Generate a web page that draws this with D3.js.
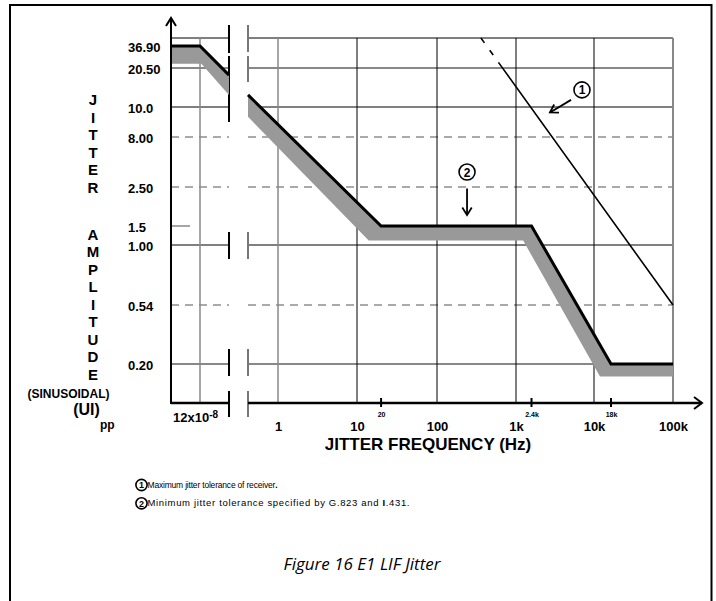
<!DOCTYPE html>
<html>
<head>
<meta charset="utf-8">
<script src="https://cdn.jsdelivr.net/npm/d3@7"></script>
<style>
    body { margin: 0; background: #fff; }
    svg text { font-family: "Liberation Sans", Arial, sans-serif; fill: #000; }
    .bold { font-weight: bold; }
    .caption { font-family: "Open Sans", "Noto Sans", sans-serif; font-style: italic; }
</style>
</head>
<body>
<svg id="jitter-chart" width="716" height="601"></svg>
<script>
// values
const X_TICK_VALUES = [12e-8, 1, 10, 100, 1000, 10000, 100000];
const X_TICK_LABELS = ['12x10', '1', '10', '100', '1k', '10k', '100k'];
const X_MARK_VALUES = [20, 2400, 18000];
const X_MARK_LABELS = ['20', '2.4k', '18k'];
const Y_TICK_VALUES = [36.9, 20.5, 10, 8, 2.5, 1.5, 1, 0.54, 0.2];
const Y_TICK_LABELS = ['36.90', '20.50', '10.0', '8.00', '2.50', '1.5', '1.00', '0.54', '0.20'];
const Y_GRID_VALUES = [40, 20.5, 10, 8, 2.5, 1, 0.54, 0.2];
const BREAK_FREQ = [4.88e-3, 0.01];

// minimum tolerance mask (G.823), split by the axis break
const MASK_LOW_FREQ = [1e-8, 12e-8, 4.88e-3];
const MASK_LOW_AMP = [36.9, 36.9, 18];
const MASK_HIGH_FREQ = [0.01, 20, 2400, 18000, 100000];
const MASK_HIGH_AMP = [12.5, 1.5, 1.5, 0.2, 0.2];
// lower edge of the grey band under the mask
const SHADE_LOW_FREQ = [1e-8, 2e-7, 4.88e-3];
const SHADE_LOW_AMP = [23, 23, 12.5];
const SHADE_HIGH_FREQ = [0.01, 14, 1500, 12300, 100000];
const SHADE_HIGH_AMP = [9.3, 1.1, 1.1, 0.16, 0.16];
// maximum tolerance of receiver
const RX_FREQ = [360, 100000];
const RX_AMP = [40, 0.54];

const NOTE_LABELS = ['1', '2'];
const NOTE_FREQ = [7600, 240];
const NOTE_AMP = [13.7, 3.54];
const NOTE_FROM_FREQ = [5920, 240];
const NOTE_FROM_AMP = [11.4, 2.45];
const NOTE_TO_FREQ = [3660, 240];
const NOTE_TO_AMP = [9.6, 1.73];

const LEGEND_TEXT = [
    ['Maximum jitter tolerance of receiver', '.', ''],
    ['Minimum jitter tolerance specified by G.823 and ', 'I', '.431.']
];

class JitterChart {
    constructor() {
        this.svg = d3.select('#jitter-chart');

        // the figure is a schematic, so both axes are piecewise log scales
        this.x = d3.scaleLog()
            .domain([1e-8, 12e-8, 4.88e-3, 0.01, 1, 10, 100, 1000, 2400, 10000, 18000, 100000])
            .range([171, 200, 229, 248, 278, 357, 437, 516, 531.5, 594, 611, 673]);
        this.y = d3.scaleLog()
            .domain([0.1, 0.2, 0.54, 1, 1.5, 2.5, 8, 10, 20.5, 36.9, 40])
            .range([403, 364, 305, 245, 226, 187, 137, 107, 68, 46, 38]);

        this.left = this.x.range()[0];
        this.right = this.x(100000);
        this.bottom = this.y(0.1);
        this.top = this.y(40);
        this.gapL = this.x(BREAK_FREQ[0]);
        this.gapR = this.x(BREAK_FREQ[1]);

        this.svg.append('rect')
            .attr('x', 10).attr('y', 5).attr('width', 701.5).attr('height', 700)
            .attr('fill', 'none').attr('stroke', '#000').attr('stroke-width', 2);

        this.drawGrid();
        this.drawShade();
        this.drawLines();
        this.drawAxes();
        this.drawNotes();
        this.drawLabels();
    }

    drawGrid() {
        const g = this.svg.append('g').attr('class', 'grid');
        const style = v => {
            if (v === 8 || v === 2.5 || v === 0.54) return { c: '#555', w: 1, dash: '8,6' };
            if (v === 20.5 || v === 0.2) return { c: '#888', w: 2, dash: null };
            return { c: '#000', w: 1, dash: null };
        };
        Y_GRID_VALUES.forEach(v => {
            const s = style(v);
            [[this.left, this.gapL], [this.gapR, this.right]].forEach(seg => {
                g.append('line')
                    .attr('x1', seg[0]).attr('x2', seg[1])
                    .attr('y1', this.y(v)).attr('y2', this.y(v))
                    .attr('stroke', s.c).attr('stroke-width', s.w)
                    .attr('stroke-dasharray', s.dash);
            });
        });
        // short 1.5 marker
        g.append('line')
            .attr('x1', this.left).attr('x2', this.left + 19)
            .attr('y1', this.y(1.5)).attr('y2', this.y(1.5))
            .attr('stroke', '#888').attr('stroke-width', 1.5);

        g.selectAll('.vgrid')
            .data(X_TICK_VALUES)
            .join('line')
            .attr('class', 'vgrid')
            .attr('x1', d => this.x(d)).attr('x2', d => this.x(d))
            .attr('y1', this.top).attr('y2', this.bottom)
            .attr('stroke', d => (d < 10 || d === 100000) ? '#888' : '#000')
            .attr('stroke-width', d => d === 100000 ? 2 : (d < 10 ? 1.5 : 1));

        // break marks
        const spans = [
            [[25, 53], [56, 122], [this.y(1) - 13, this.y(1) + 14], [this.y(0.2) - 15, this.y(0.2) + 12], [391, 417]],
            [[25, 52], [56, 82], [this.y(1) - 13, this.y(1) + 14], [this.y(0.2) - 15, this.y(0.2) + 12], [391, 417]]
        ];
        spans.forEach((list, i) => {
            const xp = i === 0 ? this.gapL : this.gapR;
            list.forEach(s => {
                g.append('line')
                    .attr('x1', xp).attr('x2', xp).attr('y1', s[0]).attr('y2', s[1])
                    .attr('stroke', i === 0 ? '#000' : '#777').attr('stroke-width', 2);
            });
        });
    }

    drawShade() {
        const line = d3.line().x(d => this.x(d.f)).y(d => this.y(d.a));
        const band = (uf, ua, lf, la) => {
            const upper = uf.map((f, i) => ({ f: f, a: ua[i] }));
            const lower = lf.map((f, i) => ({ f: f, a: la[i] })).reverse();
            return line(upper.concat(lower)) + 'Z';
        };
        this.svg.append('path')
            .attr('d', band(MASK_LOW_FREQ, MASK_LOW_AMP, SHADE_LOW_FREQ, SHADE_LOW_AMP))
            .attr('fill', '#999');
        this.svg.append('path')
            .attr('d', band(MASK_HIGH_FREQ, MASK_HIGH_AMP, SHADE_HIGH_FREQ, SHADE_HIGH_AMP))
            .attr('fill', '#999');
    }

    drawLines() {
        const line = d3.line().x(d => this.x(d.f)).y(d => this.y(d.a));
        [[MASK_LOW_FREQ, MASK_LOW_AMP], [MASK_HIGH_FREQ, MASK_HIGH_AMP]].forEach(s => {
            this.svg.append('path')
                .attr('d', line(s[0].map((f, i) => ({ f: f, a: s[1][i] }))))
                .attr('fill', 'none').attr('stroke', '#000').attr('stroke-width', 3);
        });
        this.svg.append('path')
            .attr('d', line(RX_FREQ.map((f, i) => ({ f: f, a: RX_AMP[i] }))))
            .attr('fill', 'none').attr('stroke', '#000').attr('stroke-width', 1.6)
            .attr('stroke-dasharray', '6,9,6,9,1000');
    }

    drawAxes() {
        const g = this.svg.append('g');
        // y axis with arrow
        g.append('line').attr('x1', this.left).attr('x2', this.left)
            .attr('y1', this.bottom + 1).attr('y2', 18)
            .attr('stroke', '#000').attr('stroke-width', 2);
        g.append('path').attr('d', `M${this.left - 5},26L${this.left},18L${this.left + 5},26`)
            .attr('fill', 'none').attr('stroke', '#000').attr('stroke-width', 2);
        // x axis with break and arrow
        [[this.left, this.gapL], [this.gapR, 702]].forEach(seg => {
            g.append('line').attr('x1', seg[0]).attr('x2', seg[1])
                .attr('y1', this.bottom).attr('y2', this.bottom)
                .attr('stroke', '#000').attr('stroke-width', 2.5);
        });
        g.append('path').attr('d', `M694,${this.bottom - 6}L702,${this.bottom}L694,${this.bottom + 6}`)
            .attr('fill', 'none').attr('stroke', '#000').attr('stroke-width', 2);

        g.selectAll('.xmark')
            .data(X_MARK_VALUES)
            .join('line')
            .attr('class', 'xmark')
            .attr('x1', d => this.x(d)).attr('x2', d => this.x(d))
            .attr('y1', this.bottom - 5).attr('y2', this.bottom + 4)
            .attr('stroke', '#000').attr('stroke-width', 2);

        const xAxis = this.svg.append('g')
            .attr('transform', `translate(0, ${this.bottom})`)
            .call(d3.axisBottom(this.x).tickValues(X_TICK_VALUES).tickSize(0)
                .tickFormat((d, i) => X_TICK_LABELS[i]));
        xAxis.select('.domain').remove();
        xAxis.selectAll('text')
            .attr('class', 'bold').attr('font-size', 13)
            .attr('y', (d, i) => i === 0 ? 19 : 28).attr('dy', 0)
            .attr('dx', (d, i) => i === 0 ? -5 : 0);
        xAxis.select('.tick text').append('tspan')
            .attr('dy', -4).attr('font-size', 10).text('-8');

        const markAxis = this.svg.append('g')
            .attr('transform', `translate(0, ${this.bottom})`)
            .call(d3.axisBottom(this.x).tickValues(X_MARK_VALUES).tickSize(0)
                .tickFormat((d, i) => X_MARK_LABELS[i]));
        markAxis.select('.domain').remove();
        markAxis.selectAll('text')
            .attr('class', 'bold').attr('font-size', 7)
            .attr('y', 13.5).attr('dy', 0);

        const yAxis = this.svg.append('g')
            .attr('transform', `translate(${this.left}, 0)`)
            .call(d3.axisLeft(this.y).tickValues(Y_TICK_VALUES).tickSize(0)
                .tickFormat((d, i) => Y_TICK_LABELS[i]));
        yAxis.select('.domain').remove();
        yAxis.selectAll('text')
            .attr('class', 'bold').attr('font-size', 13)
            .attr('text-anchor', 'start').attr('x', 128 - this.left).attr('dy', '0.4em');
    }

    drawNotes() {
        const g = this.svg.append('g');
        NOTE_LABELS.forEach((lab, i) => {
            const cx = this.x(NOTE_FREQ[i]), cy = this.y(NOTE_AMP[i]);
            g.append('circle').attr('cx', cx).attr('cy', cy).attr('r', 8)
                .attr('fill', '#fff').attr('stroke', '#000').attr('stroke-width', 1.6);
            g.append('text').attr('class', 'bold').attr('x', cx).attr('y', cy + 4.5)
                .attr('text-anchor', 'middle').attr('font-size', 12).text(lab);

            const x1 = this.x(NOTE_FROM_FREQ[i]), y1 = this.y(NOTE_FROM_AMP[i]);
            const x2 = this.x(NOTE_TO_FREQ[i]), y2 = this.y(NOTE_TO_AMP[i]);
            const ang = Math.atan2(y2 - y1, x2 - x1), len = 9, spread = 0.55;
            g.append('line').attr('x1', x1).attr('y1', y1).attr('x2', x2).attr('y2', y2)
                .attr('stroke', '#000').attr('stroke-width', 1.8);
            g.append('path')
                .attr('d', `M${x2 - len * Math.cos(ang - spread)},${y2 - len * Math.sin(ang - spread)}` +
                    `L${x2},${y2}L${x2 - len * Math.cos(ang + spread)},${y2 - len * Math.sin(ang + spread)}`)
                .attr('fill', 'none').attr('stroke', '#000').attr('stroke-width', 1.8);
        });
    }

    drawLabels() {
        const g = this.svg.append('g');
        'JITTER'.split('').forEach((ch, i) => {
            g.append('text').attr('class', 'bold').attr('font-size', 15)
                .attr('x', 93).attr('y', 105 + i * 17.5).attr('text-anchor', 'middle').text(ch);
        });
        'AMPLITUDE'.split('').forEach((ch, i) => {
            g.append('text').attr('class', 'bold').attr('font-size', 15)
                .attr('x', 93).attr('y', 239.5 + i * 17.5).attr('text-anchor', 'middle').text(ch);
        });
        g.append('text').attr('class', 'bold').attr('font-size', 12)
            .attr('x', 68.5).attr('y', 397.5).attr('text-anchor', 'middle').text('(SINUSOIDAL)');
        g.append('text').attr('class', 'bold').attr('font-size', 16)
            .attr('x', 86.5).attr('y', 415).attr('text-anchor', 'middle').text('(UI)');
        g.append('text').attr('class', 'bold').attr('font-size', 12)
            .attr('x', 100).attr('y', 428.5).text('pp');

        g.append('text').attr('class', 'bold').attr('font-size', 17)
            .attr('x', 428).attr('y', 450).attr('text-anchor', 'middle').text('JITTER FREQUENCY (Hz)');

        // second legend line is set wider in the original
        const sizes = [8.5, 9.5];
        const widths = [130, 262];
        LEGEND_TEXT.forEach((parts, i) => {
            const cy = 485 + i * 18.3;
            g.append('circle').attr('cx', 141.5).attr('cy', cy).attr('r', 5.6)
                .attr('fill', 'none').attr('stroke', '#000').attr('stroke-width', 1.6);
            g.append('text').attr('class', 'bold').attr('font-size', 9)
                .attr('x', 141.5).attr('y', cy + 3.3).attr('text-anchor', 'middle').text(String(i + 1));
            const t = g.append('text').attr('font-size', sizes[i]).attr('x', 147.5).attr('y', cy + 3)
                .attr('textLength', widths[i]).attr('lengthAdjust', 'spacing');
            t.append('tspan').text(parts[0]);
            t.append('tspan').attr('class', 'bold').text(parts[1]);
            t.append('tspan').text(parts[2]);
        });

        g.append('text').attr('class', 'caption').attr('font-size', 17)
            .attr('x', 362).attr('y', 570).attr('text-anchor', 'middle').text('Figure 16 E1 LIF Jitter');
    }
}

new JitterChart();
</script>
</body>
</html>
